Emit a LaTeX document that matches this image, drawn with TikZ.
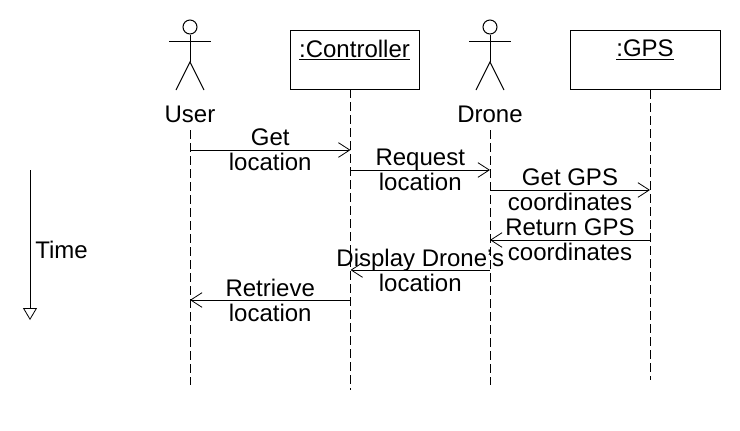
\documentclass[tikz,border=0pt]{standalone}
\usepackage{fontspec}
\setmainfont{Liberation Sans}
\usetikzlibrary{arrows.meta}
\tikzset{
  label text/.style={font=\fontsize{18}{18.75}\selectfont,align=center,inner sep=0pt},
  object box/.style={draw,line width=.75pt,minimum width=96.75pt,minimum height=44.25pt,inner sep=0pt},
  lifeline/.style={line width=.75pt,dash pattern=on 6.75pt off 3pt},
  message/.style={line width=.75pt,-{Straight Barb[length=8.5pt,width=11pt,line width=.6pt]}},
  actor/.style={line width=.75pt}
}
\begin{document}
\begin{tikzpicture}[x=.75pt,y=-.75pt]
  \useasboundingbox (0,0) rectangle (740,430);

  % actors
  \foreach \name/\x in {user/190,drone/490}
  {
    \node[draw,actor,circle,minimum size=10.5pt,inner sep=0pt] (\name Head) at (\x,27){};
    \coordinate (\name Hip) at (\x,62);
    \coordinate (\name Left) at (\x-14,90);
    \coordinate (\name Right) at (\x+14,90);
    \coordinate (\name ArmL) at (\x-21,41);
    \coordinate (\name ArmR) at (\x+21,41);
    \draw[actor] (\name Head) -- (\name Hip);
    \draw[actor] (\name ArmL) -- (\name ArmR);
    \draw[actor] (\name Left) -- (\name Hip) -- (\name Right);
  }
  \node[label text] (userName) at (190,114) {User};
  \node[label text] (droneName) at (490,114) {Drone};

  % objects
  \node[object box] (ctrlBox) at (354.5,59.5){};
  \node[object box,minimum width=112.5pt] (gpsBox) at (645,60){};
  \node[label text] (ctrlName) at (354.5,50) {\underline{:Controller}};
  \node[label text] (gpsName) at (645,50) {\underline{:GPS}};

  % lifelines
  \coordinate (userTop) at (190,130);
  \coordinate (userEnd) at (190,385);
  \coordinate (ctrlTop) at (350.5,89);
  \coordinate (ctrlEnd) at (350.5,390);
  \coordinate (droneTop) at (490,130);
  \coordinate (droneEnd) at (490,385);
  \coordinate (gpsTop) at (650,90);
  \coordinate (gpsEnd) at (650,380);
  \foreach \name in {user,ctrl,drone,gps}
  {
    \draw[lifeline] (\name Top) -- (\name End);
  }

  % messages
  \foreach \y/\from/\to/\fromx/\tox/\txt in {
    150/userA/ctrlA/190/350.5/{Get\\location},
    170/ctrlB/droneB/350.5/490/{Request\\location},
    190/droneC/gpsC/490/650/{Get GPS\\coordinates},
    240/gpsD/droneD/650/490/{Return GPS\\coordinates},
    270/droneE/ctrlE/490/350.5/{Display Drone's\\location},
    300/ctrlF/userF/350.5/190/{Retrieve\\location}}
  {
    \coordinate (\from) at (\fromx,\y);
    \coordinate (\to) at (\tox,\y);
    \draw[message] (\from) -- node[label text] {\txt} (\to);
  }

  % time
  \coordinate (timeTop) at (30,170);
  \coordinate (timeEnd) at (30,320);
  \draw[line width=.75pt,-{Triangle[open,length=9pt,width=10.5pt,line width=.6pt]}] (timeTop) -- (timeEnd);
  \node[label text,anchor=west] (timeName) at (35,250) {Time};
\end{tikzpicture}
\end{document}
